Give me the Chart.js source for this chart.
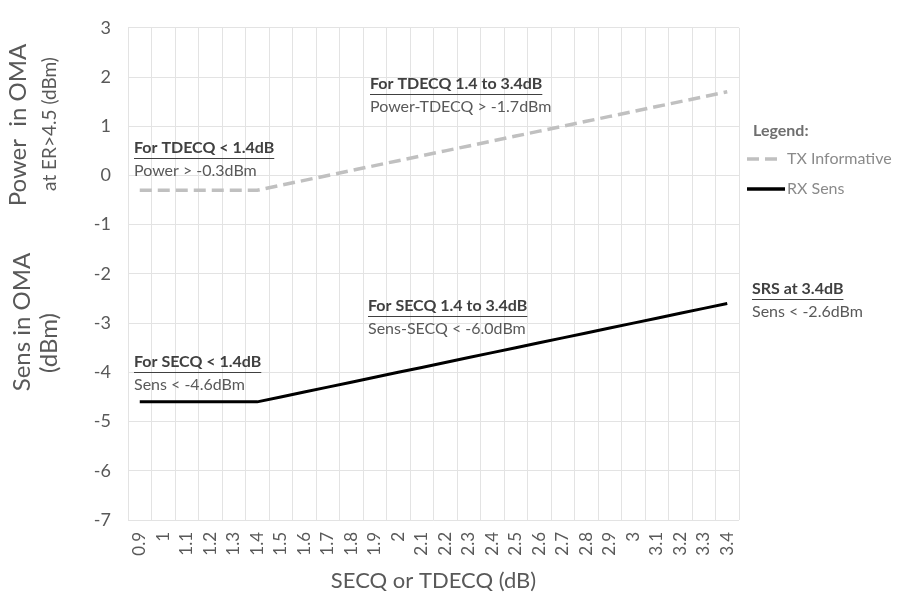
<!DOCTYPE html>
<html>
<head>
<meta charset="utf-8">
<script src="https://cdn.jsdelivr.net/npm/chart.js@4.4.0/dist/chart.umd.min.js"></script>
<style>
  html, body { margin: 0; padding: 0; background: #ffffff; }
  #wrap { width: 901px; height: 604px; position: relative; }
</style>
</head>
<body>
<div id="wrap"><canvas id="c" width="901" height="604"></canvas></div>
<script>
// ---- data ----
const categories = ['0.9','1','1.1','1.2','1.3','1.4','1.5','1.6','1.7','1.8','1.9','2','2.1','2.2','2.3','2.4','2.5','2.6','2.7','2.8','2.9','3','3.1','3.2','3.3','3.4'];
const txInformative = [-0.3,-0.3,-0.3,-0.3,-0.3,-0.3,-0.2,-0.1,0.0,0.1,0.2,0.3,0.4,0.5,0.6,0.7,0.8,0.9,1.0,1.1,1.2,1.3,1.4,1.5,1.6,1.7];
const rxSens = [-4.6,-4.6,-4.6,-4.6,-4.6,-4.6,-4.5,-4.4,-4.3,-4.2,-4.1,-4.0,-3.9,-3.8,-3.7,-3.6,-3.5,-3.4,-3.3,-3.2,-3.1,-3.0,-2.9,-2.8,-2.7,-2.6];
const yMin = -7, yMax = 3, yStep = 1;
const seriesNames = ['TX Informative', 'RX Sens'];

const FONT = 'Lato, "Open Sans", sans-serif';
const GRAY = '#595959';

const notes = [
  { x: 134, y: 148, bold: 'For TDECQ < 1.4dB', body: 'Power > -0.3dBm' },
  { x: 370, y: 84,  bold: 'For TDECQ 1.4 to 3.4dB', body: 'Power-TDECQ > -1.7dBm' },
  { x: 134, y: 362, bold: 'For SECQ < 1.4dB', body: 'Sens < -4.6dBm' },
  { x: 368, y: 306, bold: 'For SECQ 1.4 to 3.4dB', body: 'Sens-SECQ < -6.0dBm' },
  { x: 752, y: 289, bold: 'SRS at 3.4dB', body: 'Sens < -2.6dBm' }
];

const extras = {
  id: 'extras',
  afterDraw(chart) {
    const ctx = chart.ctx;
    ctx.save();
    // annotations
    notes.forEach(n => {
      ctx.textBaseline = 'middle';
      ctx.textAlign = 'left';
      ctx.font = 'bold 16px ' + FONT;
      ctx.fillStyle = '#404040';
      ctx.fillText(n.bold, n.x, n.y);
      const w = ctx.measureText(n.bold).width;
      ctx.strokeStyle = '#404040';
      ctx.lineWidth = 1;
      ctx.beginPath();
      ctx.moveTo(n.x, n.y + 10.5);
      ctx.lineTo(n.x + w, n.y + 10.5);
      ctx.stroke();
      ctx.font = '16px ' + FONT;
      ctx.fillStyle = GRAY;
      ctx.fillText(n.body, n.x, n.y + 23);
    });
    // legend
    ctx.font = 'bold 16px ' + FONT;
    ctx.fillStyle = '#6f6f6f';
    ctx.fillText('Legend:', 753, 131);
    ctx.font = '16px ' + FONT;
    ctx.fillStyle = '#8a8a8a';
    ctx.lineCap = 'butt';
    ctx.strokeStyle = '#c0c0c0';
    ctx.lineWidth = 3.5;
    ctx.setLineDash([12, 6]);
    ctx.beginPath(); ctx.moveTo(747, 159); ctx.lineTo(782, 159); ctx.stroke();
    ctx.setLineDash([]);
    ctx.fillText(seriesNames[0], 787, 159);
    ctx.strokeStyle = '#000000';
    ctx.lineWidth = 3.5;
    ctx.beginPath(); ctx.moveTo(747, 189); ctx.lineTo(785, 189); ctx.stroke();
    ctx.fillText(seriesNames[1], 787, 189);
    // y titles
    const vt = (txt, x, y, size) => {
      ctx.save();
      ctx.translate(x, y);
      ctx.rotate(-Math.PI / 2);
      ctx.textAlign = 'center';
      ctx.textBaseline = 'middle';
      ctx.font = size + 'px ' + FONT;
      ctx.fillStyle = GRAY;
      ctx.fillText(txt, 0, 0);
      ctx.restore();
    };
    vt('Power  in OMA', 18, 125, 24);
    vt('at ER>4.5 (dBm)', 50, 124, 19);
    vt('Sens in OMA', 22, 322, 24);
    vt('(dBm)', 49, 343, 24);
    ctx.restore();
  }
};

new Chart(document.getElementById('c'), {
  type: 'line',
  data: {
    labels: categories,
    datasets: [
      { label: seriesNames[0], data: txInformative, borderColor: '#c0c0c0', borderWidth: 3.5, borderDash: [12, 6], pointRadius: 0, tension: 0, fill: false },
      { label: seriesNames[1], data: rxSens, borderColor: '#000000', borderWidth: 3, pointRadius: 0, tension: 0, fill: false }
    ]
  },
  options: {
    responsive: false,
    animation: false,
    devicePixelRatio: 1,
    layout: { padding: { left: 0, right: 162, top: 17, bottom: 0 } },
    plugins: { legend: { display: false }, tooltip: { enabled: false }, title: { display: false } },
    scales: {
      x: {
        offset: true,
        grid: { offset: true, color: '#e3e3e3', lineWidth: 1, drawTicks: false },
        border: { display: false },
        ticks: { autoSkip: false, maxRotation: 90, minRotation: 90, color: GRAY, font: { family: FONT, size: 17 }, padding: 12 },
        title: { display: true, text: 'SECQ or TDECQ (dB)', color: GRAY, font: { family: FONT, size: 22 }, padding: { top: 0, bottom: 10 } },
        afterFit(s) { s.height = 84; }
      },
      y: {
        min: yMin, max: yMax,
        grid: { color: '#e3e3e3', lineWidth: 1, drawTicks: false },
        border: { display: false },
        ticks: { stepSize: yStep, color: GRAY, font: { family: FONT, size: 18 }, padding: 17 },
        afterFit(s) { s.width = 128; }
      }
    }
  },
  plugins: [extras]
});
</script>
</body>
</html>
